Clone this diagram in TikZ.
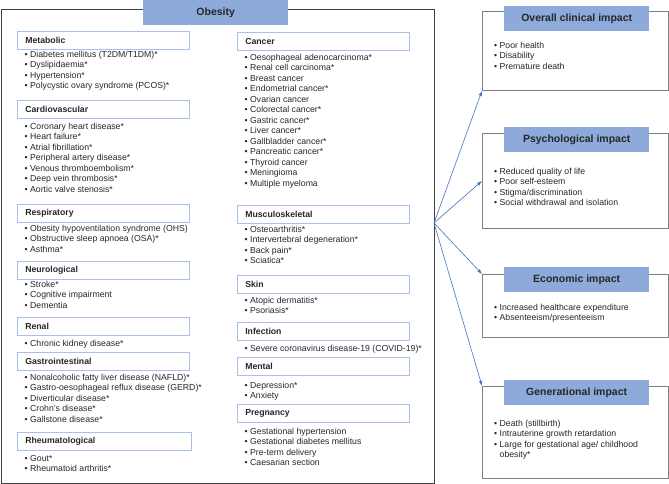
\documentclass[tikz,border=0pt]{standalone}
\usepackage{fontspec}
\setmainfont{Liberation Sans}
\usetikzlibrary{arrows.meta}

\definecolor{titleblue}{HTML}{8EAADB}
\definecolor{hdrblue}{HTML}{A9C1E8}
\definecolor{arrowblue}{HTML}{4472C4}
\definecolor{framegray}{HTML}{404040}
\definecolor{boxgray}{HTML}{808080}
\definecolor{textgray}{HTML}{262626}

\newcommand{\itm}{\textbullet\ }

\begin{document}
\begin{tikzpicture}[x=1pt, y=-1pt,
    every node/.style={font=\fontsize{8.7}{10.5}\selectfont, text=textgray},
    bigframe/.style={draw=framegray, line width=0.8pt, anchor=north west, inner sep=0pt},
    impactbox/.style={draw=boxgray, line width=0.8pt, anchor=north west, inner sep=0pt, minimum width=186pt},
    titlebox/.style={fill=titleblue, anchor=north west, minimum width=145pt, minimum height=25pt,
                     font=\fontsize{10.5}{12}\selectfont\bfseries},
    hdr/.style={draw=hdrblue, line width=0.6pt, fill=white, anchor=north west, minimum height=18pt,
                text width=156pt, inner xsep=8pt, inner ysep=0pt, align=left,
                font=\fontsize{8.7}{10.5}\selectfont\bfseries},
    items/.style={anchor=north west, align=left, inner sep=0pt},
    link/.style={draw=arrowblue, line width=0.6pt, -{Latex[length=5pt, width=3.6pt]}}]

  \useasboundingbox (0,0) rectangle (669,484);

  % obesity frame and title
  \node[bigframe, minimum width=433pt, minimum height=474pt] (frame) at (1,9) {};
  \node[titlebox] (obesity) at (143,0) {Obesity};

  % left column
  \begin{scope}
  \node[hdr] (metab) at (17,31) {Metabolic};
  \node[items] (metablist) at (24.5,50.8)
       {\itm Diabetes mellitus (T2DM/T1DM)*\\ \itm Dyslipidaemia*\\ \itm Hypertension*\\
        \itm Polycystic ovary syndrome (PCOS)*};
  \node[hdr] (cardio) at (17,100) {Cardiovascular};
  \node[items] (cardiolist) at (24.5,122.8)
       {\itm Coronary heart disease*\\ \itm Heart failure*\\ \itm Atrial fibrillation*\\
        \itm Peripheral artery disease*\\ \itm Venous thromboembolism*\\
        \itm Deep vein thrombosis*\\ \itm Aortic valve stenosis*};
  \node[hdr] (resp) at (17,204) {Respiratory};
  \node[items] (resplist) at (24.5,224.8)
       {\itm Obesity hypoventilation syndrome (OHS)\\ \itm Obstructive sleep apnoea (OSA)*\\
        \itm Asthma*};
  \node[hdr] (neuro) at (17,261) {Neurological};
  \node[items] (neurolist) at (24.5,280.8)
       {\itm Stroke*\\ \itm Cognitive impairment\\ \itm Dementia};
  \node[hdr] (renal) at (17,317) {Renal};
  \node[items] (renallist) at (24.5,339.8) {\itm Chronic kidney disease*};
  \node[hdr] (gastro) at (17,352) {Gastrointestinal};
  \node[items] (gastrolist) at (24.5,373.8)
       {\itm Nonalcoholic fatty liver disease (NAFLD)*\\
        \itm Gastro-oesophageal reflux disease (GERD)*\\ \itm Diverticular disease*\\
        \itm Crohn’s disease*\\ \itm Gallstone disease*};
  \node[hdr, text width=158pt] (rheum) at (17,432) {Rheumatological};
  \node[items] (rheumlist) at (24.5,454.8) {\itm Gout*\\ \itm Rheumatoid arthritis*};
  \end{scope}

  % middle column
  \begin{scope}
  \node[hdr] (cancer) at (237,32) {Cancer};
  \node[items] (cancerlist) at (244.5,53.8)
       {\itm Oesophageal adenocarcinoma*\\ \itm Renal cell carcinoma*\\ \itm Breast cancer\\
        \itm Endometrial cancer*\\ \itm Ovarian cancer\\ \itm Colorectal cancer*\\
        \itm Gastric cancer*\\ \itm Liver cancer*\\ \itm Gallbladder cancer*\\
        \itm Pancreatic cancer*\\ \itm Thyroid cancer\\ \itm Meningioma\\
        \itm Multiple myeloma};
  \node[hdr] (musc) at (237,205) {Musculoskeletal};
  \node[items] (musclist) at (244.5,225.8)
       {\itm Osteoarthritis*\\ \itm Intervertebral degeneration*\\ \itm Back pain*\\
        \itm Sciatica*};
  \node[hdr] (skin) at (237,275) {Skin};
  \node[items] (skinlist) at (244.5,296.8) {\itm Atopic dermatitis*\\ \itm Psoriasis*};
  \node[hdr] (infect) at (237,322) {Infection};
  \node[items] (infectlist) at (244.5,344.8)
       {\itm Severe coronavirus disease-19 (COVID-19)*};
  \node[hdr] (mental) at (237,357) {Mental};
  \node[items] (mentallist) at (244.5,381.8) {\itm Depression*\\ \itm Anxiety};
  \node[hdr] (preg) at (237,404) {Pregnancy};
  \node[items] (preglist) at (244.5,427.8)
       {\itm Gestational hypertension\\ \itm Gestational diabetes mellitus\\
        \itm Pre-term delivery\\ \itm Caesarian section};
  \end{scope}

  % impact boxes
  \begin{scope}
  \node[impactbox, minimum height=79pt] (overall) at (482,11) {};
  \node[titlebox] (overalltitle) at (504,6) {Overall clinical impact};
  \node[items] (overalllist) at (494,41.8)
       {\itm Poor health\\ \itm Disability\\ \itm Premature death};

  \node[impactbox, minimum height=95pt] (psych) at (482,133) {};
  \node[titlebox] (psychtitle) at (504,127) {Psychological impact};
  \node[items] (psychlist) at (494,167.8)
       {\itm Reduced quality of life\\ \itm Poor self-esteem\\ \itm Stigma/discrimination\\
        \itm Social withdrawal and isolation};

  \node[impactbox, minimum height=63pt] (econ) at (482,274) {};
  \node[titlebox] (econtitle) at (504,267) {Economic impact};
  \node[items] (econlist) at (494,303.8)
       {\itm Increased healthcare expenditure\\ \itm Absenteeism/presenteeism};

  \node[impactbox, minimum height=92pt] (gen) at (482,386) {};
  \node[titlebox] (gentitle) at (504,380) {Generational impact};
  \node[items] (genlist) at (494,419.8)
       {\itm Death (stillbirth)\\ \itm Intrauterine growth retardation\\
        \itm Large for gestational age/ childhood\\ \phantom{\itm}obesity*};
  \end{scope}

  % arrows
  \coordinate (hub) at (434,223);
  \draw[link] (hub) -- (overall.south west);
  \draw[link] (hub) -- (psych.west);
  \draw[link] (hub) -- (econ.north west);
  \draw[link] (hub) -- (gen.north west);

\end{tikzpicture}
\end{document}
